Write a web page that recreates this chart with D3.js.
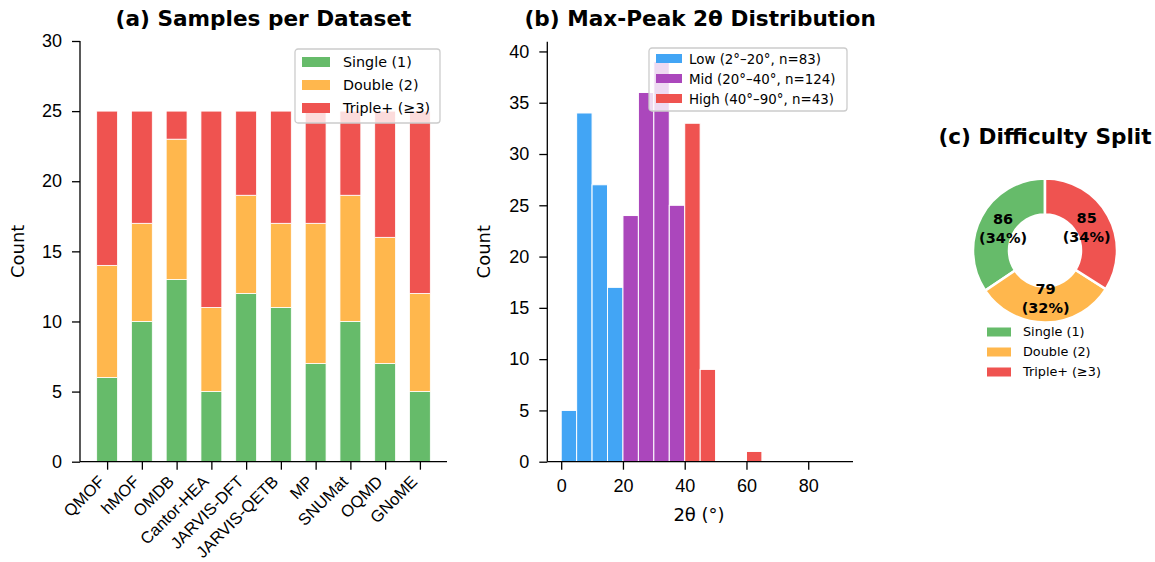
<!DOCTYPE html>
<html>
<head>
<meta charset="utf-8">
<script src="https://cdn.jsdelivr.net/npm/d3@7"></script>
<style>
  body { margin: 0; background: #fff; }
  svg { font-family: "DejaVu Sans", sans-serif; }
</style>
</head>
<body>
<div id="chart"></div>
<script>
// panel (a)
const datasets = ['QMOF', 'hMOF', 'OMDB', 'Cantor-HEA', 'JARVIS-DFT', 'JARVIS-QETB', 'MP', 'SNUMat', 'OQMD', 'GNoME'];
const singleCounts = [6, 10, 13, 5, 12, 11, 7, 10, 7, 5];
const doubleCounts = [8, 7, 10, 6, 7, 6, 10, 9, 9, 7];
const tripleCounts = [11, 8, 2, 14, 6, 8, 8, 6, 9, 13];
const stackLabels = ['Single (1)', 'Double (2)', 'Triple+ (≥3)'];
const countTicks = [0, 5, 10, 15, 20, 25, 30];

// panel (b)
const binStarts = [0, 5, 10, 15, 20, 25, 30, 35, 40, 45, 50, 55, 60, 65, 70, 75, 80, 85];
const binCounts = [5, 34, 27, 17, 24, 36, 39, 25, 33, 9, 0, 0, 1, 0, 0, 0, 0, 0];
const rangeLabels = ['Low (2°–20°, n=83)', 'Mid (20°–40°, n=124)', 'High (40°–90°, n=43)'];
const angleTicks = [0, 20, 40, 60, 80];
const histTicks = [0, 5, 10, 15, 20, 25, 30, 35, 40];

// panel (c)
const splitLabels = ['Single (1)', 'Double (2)', 'Triple+ (≥3)'];
const splitValues = [86, 79, 85];

const green = '#66bb6a', orange = '#ffb74d', red = '#ef5350', blue = '#42a5f5', purple = '#ab47bc';

const svg = d3.select('#chart').append('svg')
    .attr('width', 1155).attr('height', 562);

function styleAxis(g) {
    g.selectAll('path').attr('stroke', '#000').attr('stroke-width', 1.3);
    g.selectAll('line').attr('stroke', '#000').attr('stroke-width', 1.3);
    g.selectAll('text').attr('fill', '#000');
}

// ---------- (a) stacked bars ----------
{
    const left = 80, right = 447, top = 41, bottom = 461.7;
    const x = d3.scaleLinear().domain([-0.78, 9.78]).range([left, right]);
    const y = d3.scaleLinear().domain([0, 30]).range([bottom, top]);
    const g = svg.append('g');

    const layers = [singleCounts, doubleCounts, tripleCounts];
    const colors = [green, orange, red];
    datasets.forEach((name, i) => {
        let base = 0;
        layers.forEach((arr, k) => {
            const v = arr[i];
            g.append('rect')
                .attr('x', x(i - 0.3))
                .attr('width', x(0.3) - x(-0.3))
                .attr('y', y(base + v))
                .attr('height', y(base) - y(base + v))
                .attr('fill', colors[k])
                .attr('stroke', '#fff')
                .attr('stroke-width', 0.8);
            base += v;
        });
    });

    const ya = g.append('g').attr('transform', `translate(${left},0)`)
        .call(d3.axisLeft(y).tickValues(countTicks).tickSize(8).tickPadding(10));
    ya.select('.domain').attr('d', `M0,${bottom}V${top}`);
    ya.selectAll('text').style('font-size', '18px');
    styleAxis(ya);

    const xa = g.append('g').attr('transform', `translate(0,${bottom})`)
        .call(d3.axisBottom(x).tickValues(d3.range(datasets.length)).tickSize(8).tickFormat(i => datasets[i]));
    xa.select('.domain').attr('d', `M${left},0H${right}`);
    xa.selectAll('text')
        .style('font-size', '16.5px')
        .attr('text-anchor', 'end')
        .attr('dy', null)
        .attr('y', 0).attr('x', 0)
        .attr('transform', 'translate(-2,21) rotate(-45)');
    styleAxis(xa);

    g.append('text')
        .attr('transform', `translate(24,${(top + bottom) / 2}) rotate(-90)`)
        .attr('text-anchor', 'middle')
        .style('font-size', '18px')
        .text('Count');

    g.append('text')
        .attr('x', (left + right) / 2).attr('y', 26)
        .attr('text-anchor', 'middle')
        .style('font-size', '21.6px').style('font-weight', 'bold')
        .text('(a) Samples per Dataset');

    const lg = g.append('g').attr('transform', 'translate(295,49)');
    lg.append('rect').attr('width', 145).attr('height', 74).attr('rx', 3)
        .attr('fill', 'rgba(255,255,255,0.8)').attr('stroke', '#ccc').attr('stroke-width', 1.3);
    stackLabels.forEach((t, i) => {
        lg.append('rect').attr('x', 7).attr('y', 8 + i * 23).attr('width', 28).attr('height', 10).attr('fill', colors[i]);
        lg.append('text').attr('x', 48).attr('y', 13 + i * 23).attr('dy', '0.35em')
            .style('font-size', '14.3px').text(t);
    });
}

// ---------- (b) histogram ----------
{
    const left = 547.3, right = 853, top = 41.7, bottom = 461.7;
    const x = d3.scaleLinear().domain([-4.5, 94.5]).range([left, right]);
    const y = d3.scaleLinear().domain([0, 40.95]).range([bottom, top]);
    const g = svg.append('g');
    const colorFor = s => s < 20 ? blue : (s < 40 ? purple : red);

    binStarts.forEach((s, i) => {
        if (!binCounts[i]) return;
        g.append('rect')
            .attr('x', x(s)).attr('width', x(s + 5) - x(s))
            .attr('y', y(binCounts[i])).attr('height', y(0) - y(binCounts[i]))
            .attr('fill', colorFor(s))
            .attr('stroke', '#fff').attr('stroke-width', 1);
    });

    const ya = g.append('g').attr('transform', `translate(${left},0)`)
        .call(d3.axisLeft(y).tickValues(histTicks).tickSize(8).tickPadding(10));
    ya.select('.domain').attr('d', `M0,${bottom}V${top}`);
    ya.selectAll('text').style('font-size', '18px');
    styleAxis(ya);

    const xa = g.append('g').attr('transform', `translate(0,${bottom})`)
        .call(d3.axisBottom(x).tickValues(angleTicks).tickSize(8).tickPadding(10));
    xa.select('.domain').attr('d', `M${left},0H${right}`);
    xa.selectAll('text').style('font-size', '18px');
    styleAxis(xa);

    g.append('text')
        .attr('transform', `translate(490,${(top + bottom) / 2}) rotate(-90)`)
        .attr('text-anchor', 'middle')
        .style('font-size', '18px')
        .text('Count');
    g.append('text')
        .attr('x', 699).attr('y', 521)
        .attr('text-anchor', 'middle')
        .style('font-size', '18px')
        .text('2θ (°)');

    g.append('text')
        .attr('x', (left + right) / 2).attr('y', 26)
        .attr('text-anchor', 'middle')
        .style('font-size', '21.6px').style('font-weight', 'bold')
        .text('(b) Max-Peak 2θ Distribution');

    const colors = [blue, purple, red];
    const lg = g.append('g').attr('transform', 'translate(649,48)');
    lg.append('rect').attr('width', 198).attr('height', 63).attr('rx', 3)
        .attr('fill', 'rgba(255,255,255,0.8)').attr('stroke', '#ccc').attr('stroke-width', 1.3);
    rangeLabels.forEach((t, i) => {
        lg.append('rect').attr('x', 7).attr('y', 6 + i * 20).attr('width', 26).attr('height', 9).attr('fill', colors[i]);
        lg.append('text').attr('x', 40).attr('y', 11 + i * 20).attr('dy', '0.35em')
            .style('font-size', '13.4px').text(t);
    });
}

// ---------- (c) donut ----------
{
    const cx = 1045, cy = 250.5, R = 72;
    const colors = [green, orange, red];
    const total = d3.sum(splitValues);
    const pie = d3.pie().sort(null).startAngle(0).endAngle(-2 * Math.PI);
    const arcs = pie(splitValues);
    const arc = d3.arc().innerRadius(R * 0.5).outerRadius(R);
    const labelArc = d3.arc().innerRadius(R * 0.66).outerRadius(R * 0.66);
    const g = svg.append('g').attr('transform', `translate(${cx},${cy})`);

    g.selectAll('path').data(arcs).enter().append('path')
        .attr('d', arc)
        .attr('fill', (d, i) => colors[i])
        .attr('stroke', '#fff').attr('stroke-width', 2.5);

    arcs.forEach((d, i) => {
        const [lx, ly] = labelArc.centroid(d);
        const t = g.append('text').attr('text-anchor', 'middle')
            .style('font-size', '14.5px').style('font-weight', 'bold');
        t.append('tspan').attr('x', lx).attr('y', ly - 9.5).attr('dy', '0.35em').text(splitValues[i]);
        t.append('tspan').attr('x', lx).attr('y', ly + 9.5).attr('dy', '0.35em')
            .text(`(${Math.round(splitValues[i] / total * 100)}%)`);
    });

    svg.append('text')
        .attr('x', cx).attr('y', 144)
        .attr('text-anchor', 'middle')
        .style('font-size', '21.6px').style('font-weight', 'bold')
        .text('(c) Difficulty Split');

    const lg = svg.append('g').attr('transform', 'translate(987,332)');
    splitLabels.forEach((t, i) => {
        lg.append('rect').attr('x', 0).attr('y', i * 20 - 4.5).attr('width', 24).attr('height', 9).attr('fill', colors[i]);
        lg.append('text').attr('x', 36).attr('y', i * 20).attr('dy', '0.35em')
            .style('font-size', '12.8px').text(t);
    });
}
</script>
</body>
</html>
